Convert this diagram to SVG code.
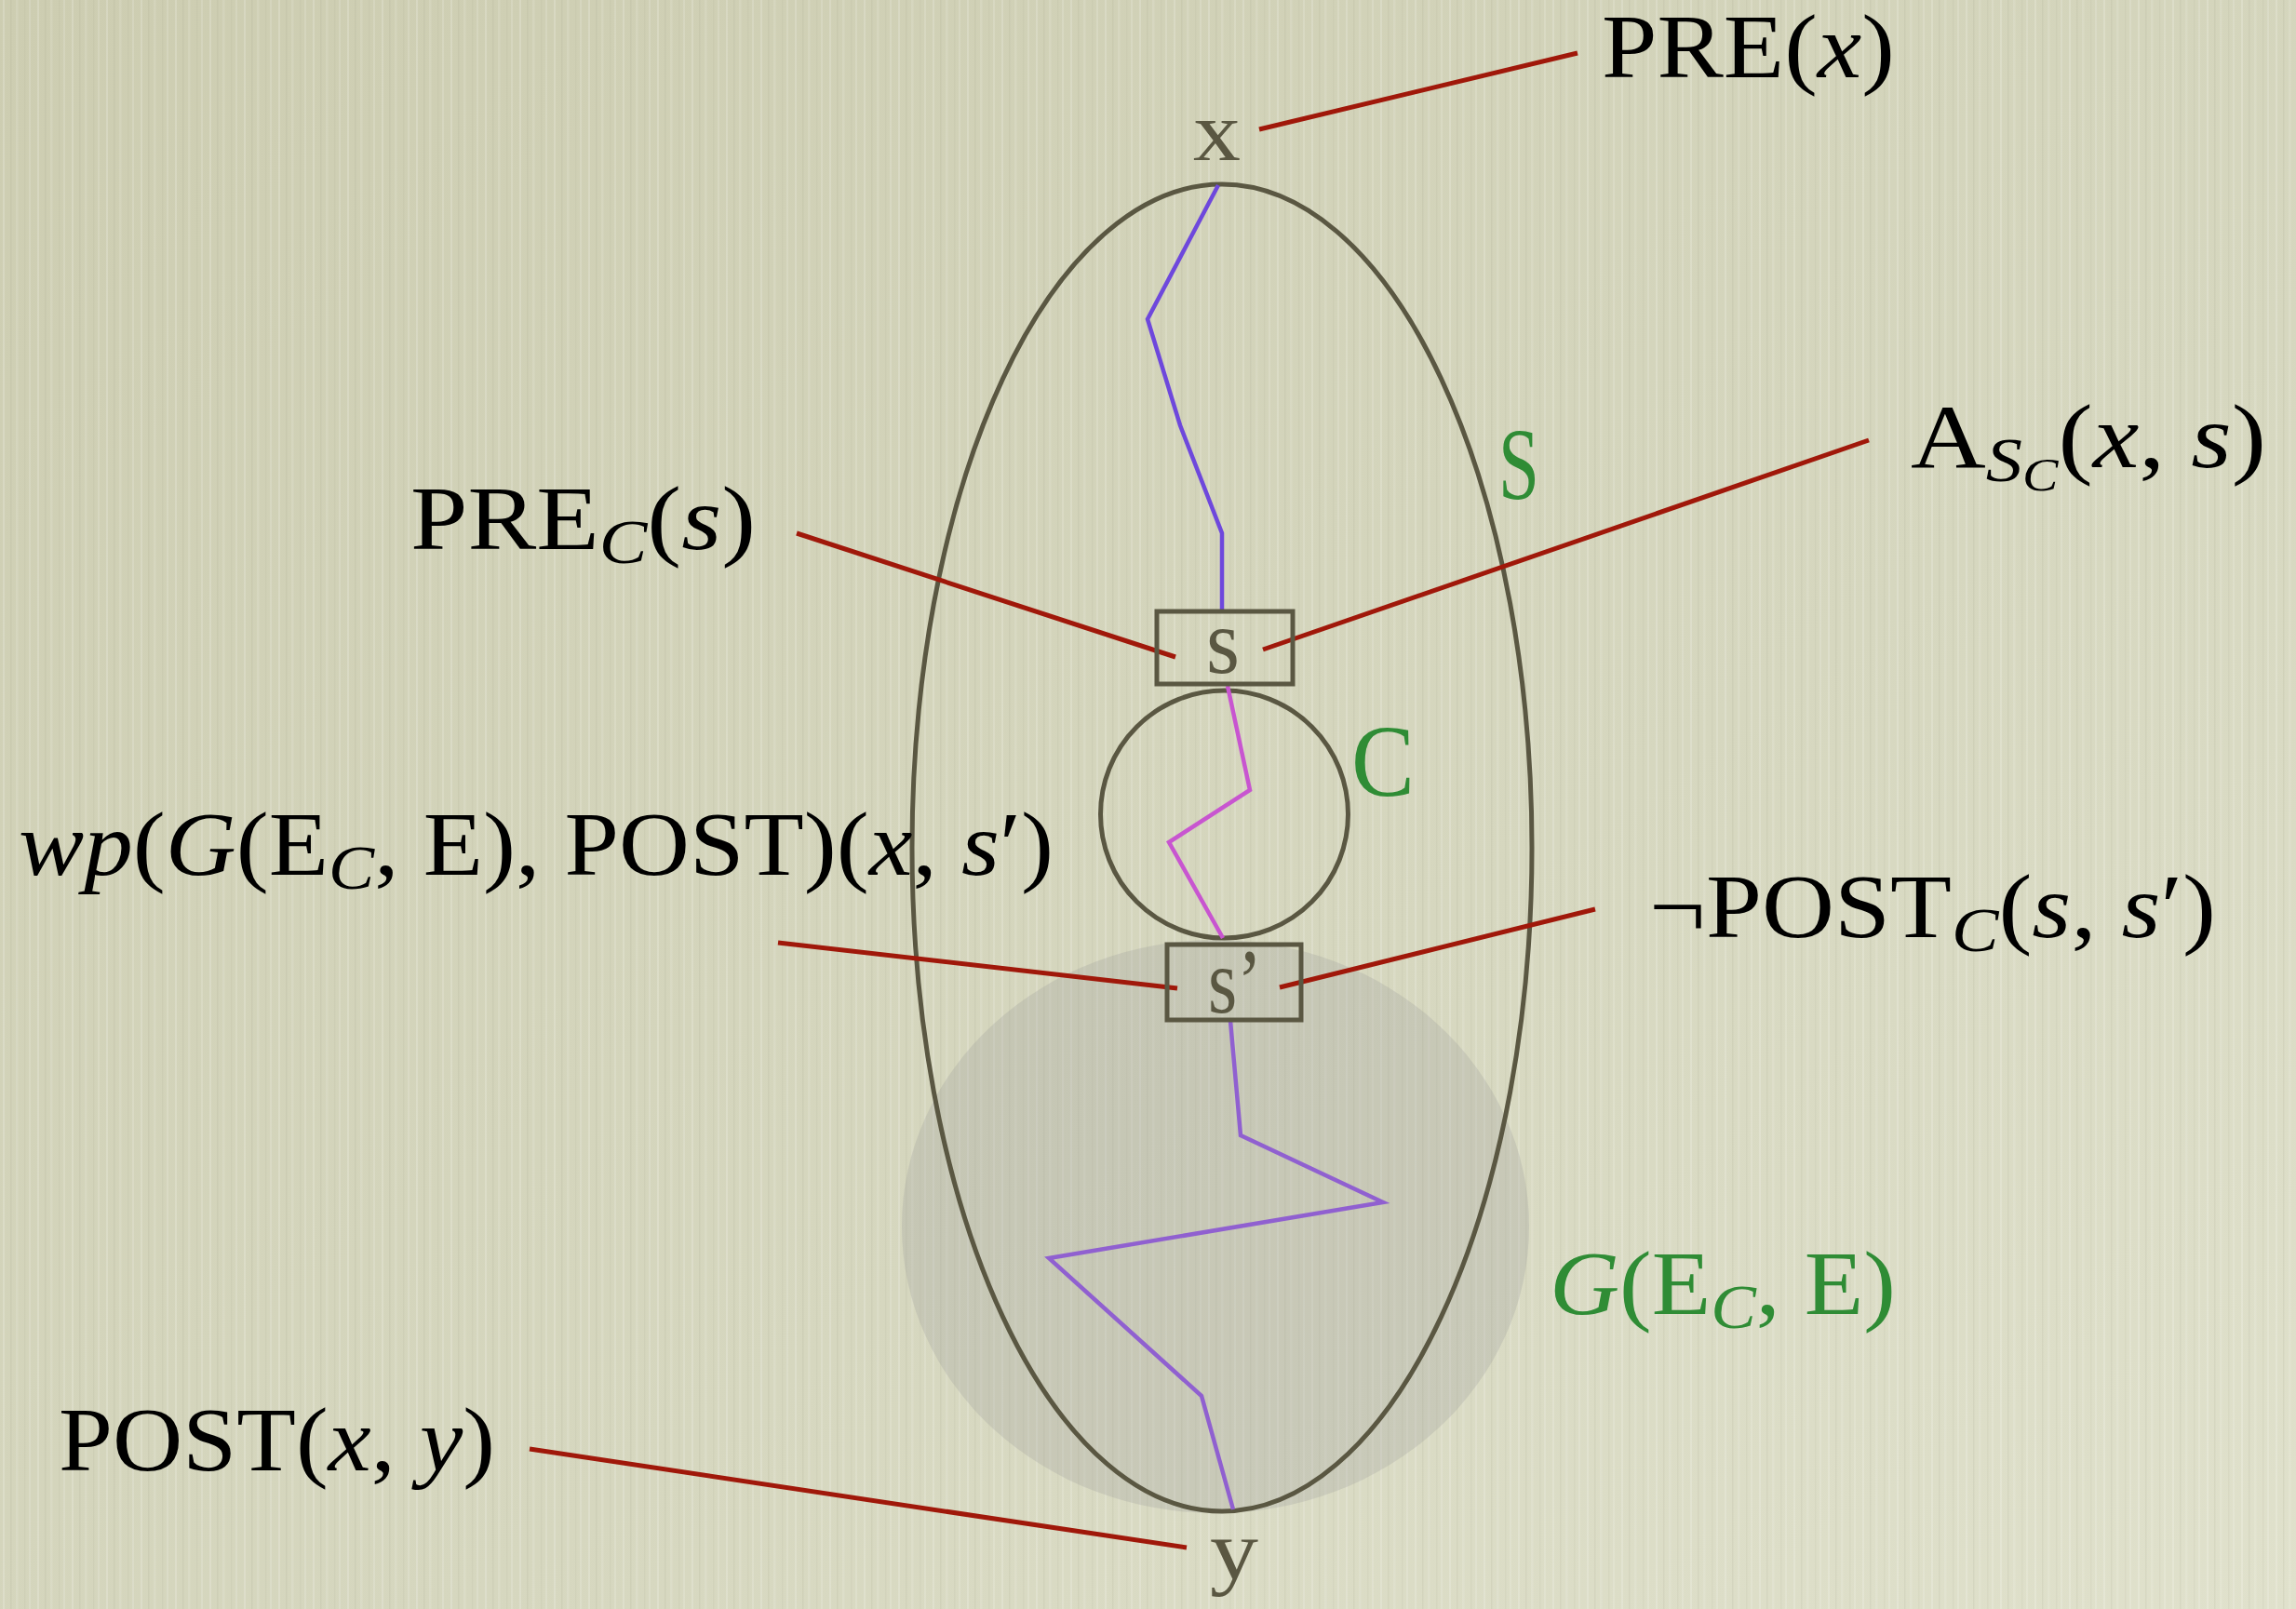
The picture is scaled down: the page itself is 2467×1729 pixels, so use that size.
<svg xmlns="http://www.w3.org/2000/svg" width="2467" height="1729" viewBox="0 0 2467 1729">
<defs>
<linearGradient id="bg" x1="0" y1="0" x2="1" y2="1">
<stop offset="0" stop-color="#cdcdb1"/>
<stop offset="0.6" stop-color="#d6d7bf"/>
<stop offset="1" stop-color="#e0e1cc"/>
</linearGradient>
<pattern id="streaks" width="37" height="1729" patternUnits="userSpaceOnUse">
<rect x="3" y="0" width="2" height="1729" fill="#ffffff" opacity="0.18"/>
<rect x="11" y="0" width="1.5" height="1729" fill="#8a8a70" opacity="0.10"/>
<rect x="17" y="0" width="2.5" height="1729" fill="#ffffff" opacity="0.12"/>
<rect x="26" y="0" width="1.5" height="1729" fill="#8a8a70" opacity="0.08"/>
<rect x="31" y="0" width="2" height="1729" fill="#ffffff" opacity="0.15"/>
</pattern>
<style>
.olive{fill:none;stroke:#5a5742;stroke-width:5}
.red{fill:none;stroke:#a0180a;stroke-width:5}
.path{fill:none;stroke-width:4.5;stroke-linejoin:miter}
.math{font-family:"Liberation Serif","Times New Roman",serif;font-size:97px;fill:#000}
.it{font-style:italic}
.sub{font-size:68px}
.node{font-family:"Liberation Serif","Times New Roman",serif;fill:#5a5742}
.green{font-family:"Liberation Serif","Times New Roman",serif;fill:#2f8c35}
</style>
</defs>
<rect x="0" y="0" width="2467" height="1729" fill="url(#bg)"/>
<rect x="0" y="0" width="2467" height="1729" fill="url(#streaks)"/>

<g id="node-G">
<ellipse cx="1306" cy="1318" rx="337" ry="308" fill="#969696" fill-opacity="0.25"/>
<text class="green" x="1665" y="1412" font-size="97" textLength="372" lengthAdjust="spacingAndGlyphs"><tspan class="it">G</tspan>(E<tspan class="it" font-size="68" dy="15">C</tspan><tspan dy="-15">, E)</tspan></text>
</g>

<g id="node-S">
<ellipse class="olive" cx="1313" cy="911" rx="333" ry="713"/>
<text class="green" x="1610" y="536" font-size="110" textLength="44" lengthAdjust="spacingAndGlyphs">S</text>
</g>

<g id="node-C">
<circle class="olive" cx="1315.5" cy="875" r="133"/>
<text class="green" x="1452" y="855" font-size="110" textLength="68" lengthAdjust="spacingAndGlyphs">C</text>
</g>

<g id="connectors">
<polyline class="path" stroke="#6e48dc" points="1309,199 1233,343 1268,457 1313,573 1313,655"/>
<polyline class="path" stroke="#c855d0" points="1319,737 1343,849 1256,905 1314,1008"/>
<polyline class="path" stroke="#9060d0" points="1322,1097 1333,1220 1486,1292 1127,1352 1291,1500 1325,1622"/>
<line class="red" x1="1353" y1="139" x2="1695" y2="57"/>
<line class="red" x1="856" y1="573" x2="1263" y2="706"/>
<line class="red" x1="1357" y1="698" x2="2008" y2="473"/>
<line class="red" x1="836" y1="1013" x2="1265" y2="1062"/>
<line class="red" x1="1375" y1="1061" x2="1714" y2="977"/>
<line class="red" x1="569" y1="1557" x2="1275" y2="1663"/>
</g>

<g id="node-s">
<rect class="olive" x="1243" y="657" width="146" height="78"/>
<text class="node" x="1296" y="723" font-size="100" textLength="36" lengthAdjust="spacingAndGlyphs">s</text>
</g>

<g id="node-s-prime">
<rect class="olive" x="1254" y="1015" width="144" height="81"/>
<text class="node" x="1298" y="1088" font-size="100" textLength="58" lengthAdjust="spacingAndGlyphs">s’</text>
</g>

<g id="node-x">
<text class="node" x="1282" y="172" font-size="92" textLength="51" lengthAdjust="spacingAndGlyphs">x</text>
</g>

<g id="node-y">
<text class="node" x="1300" y="1697" font-size="92" textLength="52" lengthAdjust="spacingAndGlyphs">y</text>
</g>

<g id="label-pre">
<text class="math" x="1721" y="83" textLength="315" lengthAdjust="spacingAndGlyphs">PRE(<tspan class="it">x</tspan>)</text>
</g>

<g id="label-prec">
<text class="math" x="441" y="590" textLength="371" lengthAdjust="spacingAndGlyphs">PRE<tspan class="it sub" dy="15">C</tspan><tspan dy="-15">(</tspan><tspan class="it">s</tspan>)</text>
</g>

<g id="label-asc">
<text class="math" x="2053" y="502" textLength="382" lengthAdjust="spacingAndGlyphs">A<tspan class="it sub" dy="15">S</tspan><tspan class="it" font-size="50" dy="10">C</tspan><tspan dy="-25">(</tspan><tspan class="it">x</tspan>, <tspan class="it">s</tspan>)</text>
</g>

<g id="label-wp">
<text class="math" x="20" y="940" textLength="1112" lengthAdjust="spacingAndGlyphs"><tspan class="it">wp</tspan>(<tspan class="it">G</tspan>(E<tspan class="it sub" dy="15">C</tspan><tspan dy="-15">, E), POST)(</tspan><tspan class="it">x</tspan>, <tspan class="it">s</tspan>′)</text>
</g>

<g id="label-postc">
<text class="math" x="1772" y="1007" textLength="609" lengthAdjust="spacingAndGlyphs">¬POST<tspan class="it sub" dy="15">C</tspan><tspan dy="-15">(</tspan><tspan class="it">s</tspan>, <tspan class="it">s</tspan>′)</text>
</g>

<g id="label-post">
<text class="math" x="63" y="1580" textLength="469" lengthAdjust="spacingAndGlyphs">POST(<tspan class="it">x</tspan>, <tspan class="it">y</tspan>)</text>
</g>
</svg>
